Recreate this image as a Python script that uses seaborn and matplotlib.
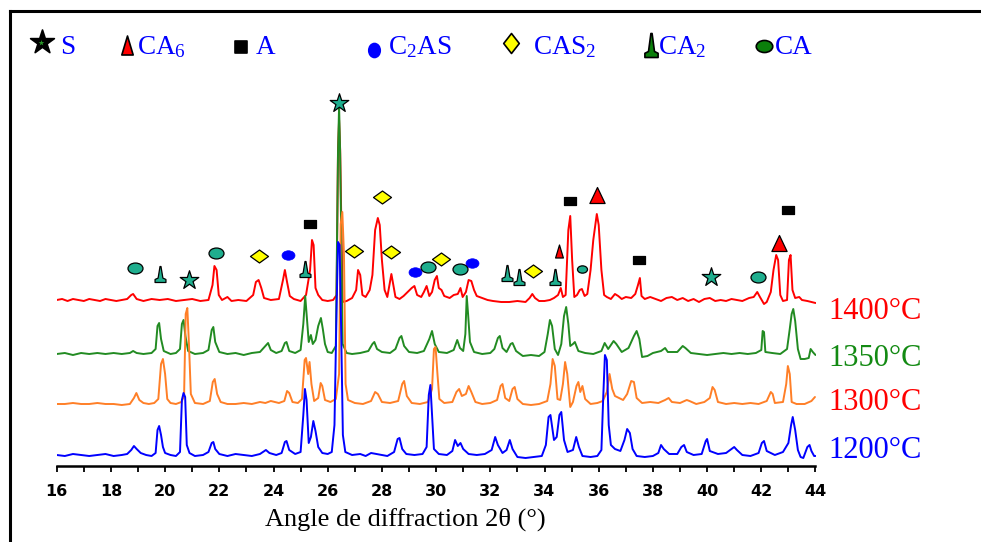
import matplotlib
matplotlib.use("Agg")
import numpy as np
import pandas as pd
import matplotlib.pyplot as plt
from matplotlib.path import Path
import seaborn as sns

# ---------------------------------------------------------------------------
# XRD patterns: (2-theta in degrees, counts above the pattern's own baseline)
# ---------------------------------------------------------------------------
pattern_1200 = [
    (16.0, 0), (16.3, -1), (16.6, 1), (16.9, 0), (17.2, -1), (17.5, 0), (17.8, 1),
    (18.1, -1), (18.4, 0), (18.6, 1), (18.75, 5), (18.85, 9), (18.95, 6), (19.1, 2),
    (19.3, 0), (19.5, -1), (19.65, 2), (19.72, 25), (19.78, 29), (19.85, 20),
    (19.92, 8), (20.0, 2), (20.2, 0), (20.4, -1), (20.55, 3), (20.62, 55),
    (20.68, 62), (20.74, 58), (20.8, 10), (20.9, 2), (21.1, -1), (21.4, 0),
    (21.6, 3), (21.72, 12), (21.78, 13), (21.85, 6), (22.0, 1), (22.3, -1),
    (22.6, 1), (22.9, 0), (23.2, -1), (23.5, 1), (23.72, 5), (23.85, 2), (24.1, 0),
    (24.3, 2), (24.42, 13), (24.48, 14), (24.58, 5), (24.8, 1), (25.0, 3),
    (25.1, 40), (25.16, 66), (25.22, 55), (25.3, 12), (25.38, 18), (25.47, 34),
    (25.55, 24), (25.65, 8), (25.8, 2), (26.0, 1), (26.15, 3), (26.25, 30),
    (26.33, 150), (26.38, 213), (26.44, 210), (26.5, 120), (26.56, 20), (26.65, 3),
    (26.9, 0), (27.2, 1), (27.4, -1), (27.6, 2), (27.8, 1), (28.0, 0), (28.2, -1),
    (28.45, 3), (28.58, 16), (28.65, 17), (28.75, 6), (28.9, 1), (29.2, 0),
    (29.5, 1), (29.65, 8), (29.73, 60), (29.79, 70), (29.85, 40), (29.92, 6),
    (30.1, 1), (30.4, 0), (30.6, 4), (30.7, 15), (30.8, 9), (30.9, 12), (31.0, 6),
    (31.2, 1), (31.5, 0), (31.8, 1), (32.05, 5), (32.18, 18), (32.28, 10),
    (32.45, 2), (32.6, 5), (32.72, 15), (32.82, 6), (33.0, -2), (33.3, -3),
    (33.6, -2), (33.9, -1), (34.05, 10), (34.15, 38), (34.22, 40), (34.35, 15),
    (34.45, 18), (34.55, 40), (34.62, 43), (34.72, 15), (34.85, 3), (35.05, 5),
    (35.17, 18), (35.27, 8), (35.4, -1), (35.7, -2), (35.95, -1), (36.1, 5),
    (36.17, 60), (36.23, 100), (36.3, 95), (36.37, 30), (36.45, 10), (36.6, 6),
    (36.8, 4), (36.95, 15), (37.05, 26), (37.15, 22), (37.25, 6), (37.4, -1),
    (37.7, -2), (38.0, -1), (38.2, 2), (38.3, 10), (38.4, 6), (38.6, 1), (38.9, 1),
    (39.05, 8), (39.15, 10), (39.25, 3), (39.5, 0), (39.8, 1), (39.95, 14),
    (40.0, 16), (40.1, 4), (40.4, 1), (40.7, 2), (40.9, 6), (41.0, 8), (41.1, 5),
    (41.3, 0), (41.6, -1), (41.9, 2), (42.02, 12), (42.1, 14), (42.2, 4),
    (42.5, 0), (42.8, 3), (43.0, 12), (43.1, 30), (43.16, 38), (43.25, 25),
    (43.35, 5), (43.45, -2), (43.55, -3), (43.7, 8), (43.78, 10), (43.85, 4),
    (43.95, -1), (44.0, -1),
]

pattern_1300 = [
    (16.0, 0), (16.3, 0), (16.6, 1), (16.9, 0), (17.2, 0), (17.5, 1), (17.8, 0),
    (18.1, 0), (18.4, -1), (18.7, 0), (18.85, 6), (18.94, 11), (19.05, 4),
    (19.2, 1), (19.4, 0), (19.6, 1), (19.75, 5), (19.85, 40), (19.92, 45),
    (20.0, 30), (20.08, 5), (20.2, 1), (20.4, 0), (20.6, 2), (20.7, 8),
    (20.76, 90), (20.82, 96), (20.88, 60), (20.95, 10), (21.1, 1), (21.4, 0),
    (21.65, 3), (21.76, 22), (21.83, 25), (21.92, 10), (22.05, 2), (22.3, 0),
    (22.6, 0), (22.9, 1), (23.2, 0), (23.5, 2), (23.7, 1), (23.9, 3), (24.2, 1),
    (24.4, 3), (24.5, 13), (24.58, 11), (24.7, 2), (24.9, 1), (25.05, 5),
    (25.15, 44), (25.2, 46), (25.28, 30), (25.33, 42), (25.4, 20), (25.5, 3),
    (25.65, 6), (25.74, 21), (25.8, 18), (25.9, 4), (26.1, 2), (26.3, 5),
    (26.42, 30), (26.48, 180), (26.54, 192), (26.6, 150), (26.66, 20), (26.75, 4),
    (27.0, 1), (27.3, 0), (27.6, 3), (27.75, 12), (27.85, 10), (28.0, 2),
    (28.3, 1), (28.6, 3), (28.75, 20), (28.82, 23), (28.92, 8), (29.1, 1),
    (29.4, 0), (29.7, 2), (29.85, 15), (29.92, 55), (29.98, 57), (30.05, 30),
    (30.12, 5), (30.3, 1), (30.6, 2), (30.75, 12), (30.85, 15), (30.95, 8),
    (31.1, 10), (31.2, 18), (31.3, 12), (31.45, 2), (31.7, 0), (32.0, 1),
    (32.25, 4), (32.38, 18), (32.45, 20), (32.55, 6), (32.7, 3), (32.82, 15),
    (32.9, 17), (33.0, 5), (33.2, 0), (33.5, -1), (33.8, 0), (34.1, 3),
    (34.22, 20), (34.3, 45), (34.38, 38), (34.48, 5), (34.58, 4), (34.68, 20),
    (34.76, 42), (34.84, 30), (34.95, -3), (35.05, 2), (35.18, 18), (35.25, 22),
    (35.32, 12), (35.4, 18), (35.5, 5), (35.7, 0), (35.95, 1), (36.15, 3),
    (36.3, 12), (36.4, 30), (36.5, 15), (36.6, 8), (36.75, 6), (36.9, 4),
    (37.05, 10), (37.2, 23), (37.3, 22), (37.4, 6), (37.6, 1), (37.9, 2),
    (38.2, 1), (38.45, 4), (38.58, 6), (38.7, 2), (39.0, 1), (39.25, 4),
    (39.35, 3), (39.6, 0), (39.9, 2), (40.1, 6), (40.2, 17), (40.28, 14),
    (40.4, 2), (40.7, 0), (41.0, 1), (41.3, 0), (41.6, 1), (41.9, 0), (42.2, 3),
    (42.35, 12), (42.42, 10), (42.5, 1), (42.8, 2), (42.92, 20), (42.98, 38),
    (43.05, 30), (43.12, 2), (43.3, 0), (43.6, 0), (43.85, 3), (43.98, 7),
]

pattern_1350 = [
    (16.0, 0), (16.3, 1), (16.6, -1), (16.9, 1), (17.2, 0), (17.5, 1), (17.8, 0),
    (18.1, 1), (18.4, 0), (18.7, 1), (18.82, 3), (18.95, 1), (19.2, 0), (19.5, 1),
    (19.65, 5), (19.72, 28), (19.78, 31), (19.85, 15), (19.95, 3), (20.2, 0),
    (20.4, 1), (20.55, 5), (20.62, 30), (20.68, 34), (20.75, 18), (20.85, 3),
    (21.1, 0), (21.4, 1), (21.6, 4), (21.72, 24), (21.78, 27), (21.85, 12),
    (22.0, 2), (22.3, 0), (22.6, 1), (22.9, -1), (23.2, 1), (23.5, 2), (23.7, 8),
    (23.8, 11), (23.9, 4), (24.1, 1), (24.3, 3), (24.42, 11), (24.48, 12),
    (24.58, 3), (24.8, 1), (25.0, 4), (25.1, 30), (25.17, 58), (25.22, 40),
    (25.3, 12), (25.38, 19), (25.45, 10), (25.55, 14), (25.65, 28), (25.75, 36),
    (25.82, 25), (25.9, 10), (26.0, 2), (26.15, 1), (26.3, 8), (26.38, 200),
    (26.42, 248), (26.46, 200), (26.55, 10), (26.7, 1), (26.9, 0), (27.2, 1),
    (27.5, 3), (27.65, 10), (27.72, 12), (27.82, 5), (28.0, 2), (28.3, 1),
    (28.5, 5), (28.65, 16), (28.72, 18), (28.82, 8), (29.0, 2), (29.3, 1),
    (29.55, 3), (29.75, 15), (29.85, 23), (29.95, 10), (30.1, 2), (30.4, 1),
    (30.65, 4), (30.78, 14), (30.88, 6), (31.0, 3), (31.08, 20), (31.13, 58),
    (31.18, 40), (31.25, 12), (31.4, 2), (31.7, 0), (32.0, 1), (32.15, 5),
    (32.28, 16), (32.35, 18), (32.45, 6), (32.6, 2), (32.75, 10), (32.82, 11),
    (32.95, 3), (33.2, -2), (33.5, -1), (33.8, -2), (34.0, 2), (34.12, 20),
    (34.2, 34), (34.28, 28), (34.38, 5), (34.5, -1), (34.62, 10), (34.72, 38),
    (34.8, 47), (34.88, 30), (34.95, 8), (35.05, 10), (35.12, 12), (35.25, 3),
    (35.5, 1), (35.8, 0), (36.1, 3), (36.22, 11), (36.35, 5), (36.55, 13),
    (36.65, 10), (36.85, 2), (37.1, 6), (37.3, 18), (37.4, 23), (37.5, 15),
    (37.6, -3), (37.8, -2), (38.0, 1), (38.3, 3), (38.45, 6), (38.55, 2),
    (38.9, 2), (39.1, 8), (39.2, 6), (39.4, 1), (39.7, 0), (40.0, -1), (40.3, 0),
    (40.6, 1), (40.9, 0), (41.2, 1), (41.5, 0), (41.8, 1), (42.0, 4), (42.05, 23),
    (42.1, 22), (42.15, 2), (42.4, 1), (42.7, 0), (42.95, 5), (43.05, 25),
    (43.12, 40), (43.18, 45), (43.25, 33), (43.35, 5), (43.45, -5), (43.6, -5),
    (43.75, -4), (43.82, 5), (43.9, 2), (44.0, -1),
]

pattern_1400 = [
    (16.0, 0), (16.2, 1), (16.4, -1), (16.6, 1), (16.8, 0), (17.0, -1), (17.2, 1),
    (17.4, 0), (17.6, -1), (17.8, 1), (18.0, 0), (18.2, -1), (18.4, 0), (18.6, 1),
    (18.75, 5), (18.82, 6), (18.95, 1), (19.2, -1), (19.5, 1), (19.8, 0),
    (20.1, 1), (20.4, -1), (20.7, 0), (21.0, 1), (21.3, -1), (21.6, 0),
    (21.75, 15), (21.82, 34), (21.9, 30), (21.98, 5), (22.1, 0), (22.3, 3),
    (22.45, -1), (22.7, 0), (23.0, -1), (23.25, 5), (23.35, 18), (23.45, 20),
    (23.55, 12), (23.65, 2), (23.9, 0), (24.2, 1), (24.35, 20), (24.42, 30),
    (24.5, 18), (24.6, 4), (24.75, 1), (25.0, -1), (25.2, 5), (25.35, 30),
    (25.42, 60), (25.48, 55), (25.55, 12), (25.65, 5), (25.8, 0), (26.0, -1),
    (26.2, 0), (26.33, 5), (26.38, 150), (26.42, 180), (26.46, 150), (26.55, -2),
    (26.7, -1), (26.9, 2), (27.05, 10), (27.12, 30), (27.2, 25), (27.28, 5),
    (27.4, 3), (27.55, 10), (27.65, 25), (27.75, 70), (27.85, 82), (27.92, 75),
    (28.0, 40), (28.1, 10), (28.2, 3), (28.28, 15), (28.35, 26), (28.42, 15),
    (28.5, 3), (28.65, 1), (28.8, 4), (28.95, 8), (29.1, 12), (29.2, 14),
    (29.3, 5), (29.45, 3), (29.55, 8), (29.65, 14), (29.75, 4), (29.85, 8),
    (29.95, 20), (30.03, 24), (30.1, 12), (30.2, 10), (30.3, 4), (30.5, 2),
    (30.65, 5), (30.8, 6), (30.9, 12), (30.98, 3), (31.1, 8), (31.2, 20),
    (31.3, 19), (31.4, 10), (31.5, 4), (31.7, 2), (31.9, 0), (32.1, -1),
    (32.4, -2), (32.7, -2), (33.0, -1), (33.3, -2), (33.45, 2), (33.55, 6),
    (33.65, 2), (33.8, -1), (34.0, -1), (34.2, 0), (34.35, 2), (34.5, 5),
    (34.6, 12), (34.68, 3), (34.78, 5), (34.88, 70), (34.95, 84), (35.02, 40),
    (35.1, 3), (35.2, 5), (35.3, 10), (35.38, 11), (35.48, 4), (35.58, 6),
    (35.7, 30), (35.8, 60), (35.93, 86), (36.0, 75), (36.1, 30), (36.2, 5),
    (36.3, 3), (36.45, 1), (36.6, 6), (36.72, 4), (36.85, 1), (37.0, 3),
    (37.2, 2), (37.35, 6), (37.45, 15), (37.52, 22), (37.58, 4), (37.7, 1),
    (37.9, 3), (38.1, 1), (38.3, -1), (38.5, 2), (38.7, 3), (38.9, 0), (39.1, 2),
    (39.3, -1), (39.5, 1), (39.7, -2), (39.9, 1), (40.1, 2), (40.3, -1),
    (40.5, 0), (40.7, -1), (40.9, 1), (41.1, 0), (41.3, -1), (41.55, 2),
    (41.72, 3), (41.85, 8), (41.95, 3), (42.1, -4), (42.2, -2), (42.35, 8),
    (42.45, 30), (42.55, 45), (42.62, 40), (42.7, 5), (42.8, -1), (42.95, 0),
    (43.02, 40), (43.08, 45), (43.15, 10), (43.25, 2), (43.4, 3), (43.5, 0),
    (43.7, -1), (44.0, -3),
]

# Phase identification on the 1400 °C pattern: (2-theta, height above its baseline)
marks_S = [(20.90, 20), (26.40, 197), (40.16, 23)]
marks_CA6 = [(35.93, 105), (42.67, 57)]
marks_CA6_minor = [(34.54, 49)]
marks_A = [(25.35, 76), (34.95, 99), (37.50, 40), (42.98, 90)]
marks_C2AS = [(24.54, 45), (29.22, 28), (31.33, 37)]
marks_CAS2 = [(23.48, 44), (26.98, 49), (28.02, 103), (28.33, 48), (30.19, 41), (33.56, 29)]
marks_CA2 = [(19.83, 26), (25.16, 31), (32.62, 27), (33.07, 23), (34.40, 23)]
marks_CA = [(18.88, 32), (21.86, 47), (29.70, 33), (30.90, 31), (41.88, 23)]
marks_CA_minor = [(35.38, 31)]

samples = ["1400°C", "1350°C", "1300°C", "1200°C"]
x_ticks = list(range(16, 45, 2))

# ---------------------------------------------------------------------------
# Styling
# ---------------------------------------------------------------------------
sns.set_theme(style="white")
plt.rcParams["font.family"] = ["Liberation Serif", "DejaVu Sans"]
plt.rcParams["mathtext.default"] = "regular"

W, H = 981, 542
fig = plt.figure(figsize=(W / 100, H / 100), dpi=100)
fig.patch.set_facecolor("white")

# main axes: 2-theta 16..44, bottom spine is the scale bar
ax = fig.add_axes([56.7 / W, (H - 466) / H, (815.5 - 56.7) / W, (466 - 10) / H])
ax.set_facecolor("white")

line_colors = {"1400°C": "#ff0000", "1350°C": "#228b22", "1300°C": "#ff7f27", "1200°C": "#0000ff"}
label_colors = {"1400°C": "#ff0000", "1350°C": "#138a13", "1300°C": "#ff0000", "1200°C": "#0000ff"}
offsets = {"1400°C": 166, "1350°C": 112, "1300°C": 62, "1200°C": 11}
label_y = {"1400°C": 311.5, "1350°C": 358, "1300°C": 403, "1200°C": 450}
patterns = {"1400°C": pattern_1400, "1350°C": pattern_1350,
            "1300°C": pattern_1300, "1200°C": pattern_1200}

frames = []
for name in samples:
    th, ct = zip(*patterns[name])
    frames.append(pd.DataFrame({"two_theta": th, "counts": ct, "sample": name}))
df = pd.concat(frames, ignore_index=True)
df["signal"] = df["counts"] + df["sample"].map(offsets)

for z, name in enumerate(samples):
    sub = df[df["sample"] == name]
    sns.lineplot(data=sub, x="two_theta", y="signal", color=line_colors[name],
                 estimator=None, sort=False, linewidth=1.4, ax=ax, zorder=2 + z)

# ---------------------------------------------------------------------------
# Marker shapes
# ---------------------------------------------------------------------------
def poly(verts):
    verts = list(verts) + [verts[0]]
    codes = [Path.MOVETO] + [Path.LINETO] * (len(verts) - 2) + [Path.CLOSEPOLY]
    return Path(verts, codes)


circle = Path.unit_circle()
ellipse_wide = Path(circle.vertices * np.array([1.0, 0.73]), circle.codes)
ellipse_tall = Path(circle.vertices * np.array([0.82, 1.0]), circle.codes)
diamond_wide = poly([(0, 0.72), (1, 0), (0, -0.72), (-1, 0)])
diamond_tall = poly([(0, 1), (0.78, 0), (0, -1), (-0.78, 0)])
square_wide = poly([(-1, -0.65), (1, -0.65), (1, 0.65), (-1, 0.65)])
square_tall = poly([(-0.92, -1), (0.92, -1), (0.92, 1), (-0.92, 1)])
tri_wide = poly([(-0.95, -1), (0.95, -1), (0, 1)])
tri_narrow = poly([(-0.6, -1), (0.6, -1), (0, 1)])
bell = poly([(-0.68, -1), (0.68, -1), (0.68, -0.62), (0.3, -0.45), (0.06, 1),
             (-0.06, 1), (-0.3, -0.45), (-0.68, -0.62)])
bell_narrow = poly([(-0.55, -1), (0.55, -1), (0.55, -0.65), (0.25, -0.5), (0.05, 1),
                    (-0.05, 1), (-0.25, -0.5), (-0.55, -0.65)])

teal = "#1fae8e"
red_base = offsets["1400°C"]


def px(size_px):
    """scatter area (pt^2) for a marker whose larger extent is size_px pixels"""
    return (size_px / 1.389) ** 2


def draw_marks(marks, marker, size, face, edge="black", lw=0.9):
    th = [m[0] for m in marks]
    yy = [red_base + m[1] for m in marks]
    sns.scatterplot(x=th, y=yy, marker=marker, s=size, color=face, edgecolor=edge,
                    linewidth=lw, ax=ax, zorder=10, legend=False)


draw_marks(marks_S, "*", px(19.5), teal)
draw_marks(marks_CA6, tri_wide, px(16), "#ff0000")
draw_marks(marks_CA6_minor, tri_narrow, px(13), "#ff0000")
draw_marks(marks_A, square_wide, px(12), "black")
draw_marks(marks_C2AS, ellipse_wide, px(13), "#0000ff", edge="#0000ff", lw=0.5)
draw_marks(marks_CAS2, diamond_wide, px(18), "#ffff00")
draw_marks(marks_CA2, bell, px(16), teal)
draw_marks(marks_CA, ellipse_wide, px(15), teal)
draw_marks(marks_CA_minor, ellipse_wide, px(10), teal)

# ---------------------------------------------------------------------------
# Axes cosmetics
# ---------------------------------------------------------------------------
ax.set_xlim(16, 44)
ax.set_ylim(0, 456)
ax.set_xlabel("")
ax.set_ylabel("")
ax.set_yticks([])
ax.set_xticks(x_ticks)
ax.set_xticks(range(17, 44, 2), minor=True)
ax.set_xticklabels([str(t) for t in x_ticks],
                   fontdict={"family": ["Liberation Sans Narrow", "DejaVu Sans"],
                             "weight": "bold", "size": 11.5})
ax.tick_params(axis="x", which="both", direction="out", length=4, width=1.3,
               color="black", bottom=True, pad=9, labelcolor="black")
ax.grid(False)
for side in ("left", "right", "top"):
    ax.spines[side].set_visible(False)
ax.spines["bottom"].set_color("black")
ax.spines["bottom"].set_linewidth(1.8)

# sample temperatures on the right
for name in samples:
    fig.text(828 / W, 1 - label_y[name] / H, name, color=label_colors[name],
             fontsize=22, ha="left", va="center")

fig.text(405 / W, 1 - 519 / H, "Angle de diffraction 2θ (°)", color="black",
         fontsize=19, ha="center", va="center")

# ---------------------------------------------------------------------------
# Phase key along the top and outer frame (pixel coordinates overlay)
# ---------------------------------------------------------------------------
ov = fig.add_axes([0, 0, 1, 1])
ov.set_xlim(0, W)
ov.set_ylim(H, 0)
ov.axis("off")
ov.patch.set_alpha(0)

ov.plot([10, 10], [11, H + 5], color="black", lw=2.2, solid_capstyle="projecting")
ov.plot([10, W + 5], [11, 11], color="black", lw=2.2, solid_capstyle="projecting")

key_green = "#0b7f0b"
key_items = [
    ("*", px(25), "black", "black", 41.5, 42, "S", 60),
    (tri_narrow, px(19), "#ff0000", "black", 127, 44.5, "CA$_6$", 137),
    (square_tall, px(12), "black", "black", 240.5, 47, "A", 256),
    (ellipse_tall, px(14), "#0000ff", "#0000ff", 374, 50, "C$_2$AS", 388),
    (diamond_tall, px(20), "#ffff00", "black", 510.5, 43, "CAS$_2$", 533),
    (bell_narrow, px(24), key_green, "black", 650.5, 45, "CA$_2$", 658),
    (ellipse_wide, px(16.5), key_green, "black", 764, 45.5, "CA", 775),
]
for marker, size, face, edge, mx, my, text, tx in key_items:
    ov.scatter([mx], [my], marker=marker, s=size, c=face, edgecolors=edge,
               linewidths=1.2, zorder=5)
    ov.text(tx, 54, text, color="#0000ff", fontsize=19.5, ha="left", va="baseline")
ov.scatter([41.5], [43], marker="*", s=px(6), c="#2a9a2a", edgecolors="none", zorder=6)

fig.savefig("out.png", dpi=100, facecolor="white")
